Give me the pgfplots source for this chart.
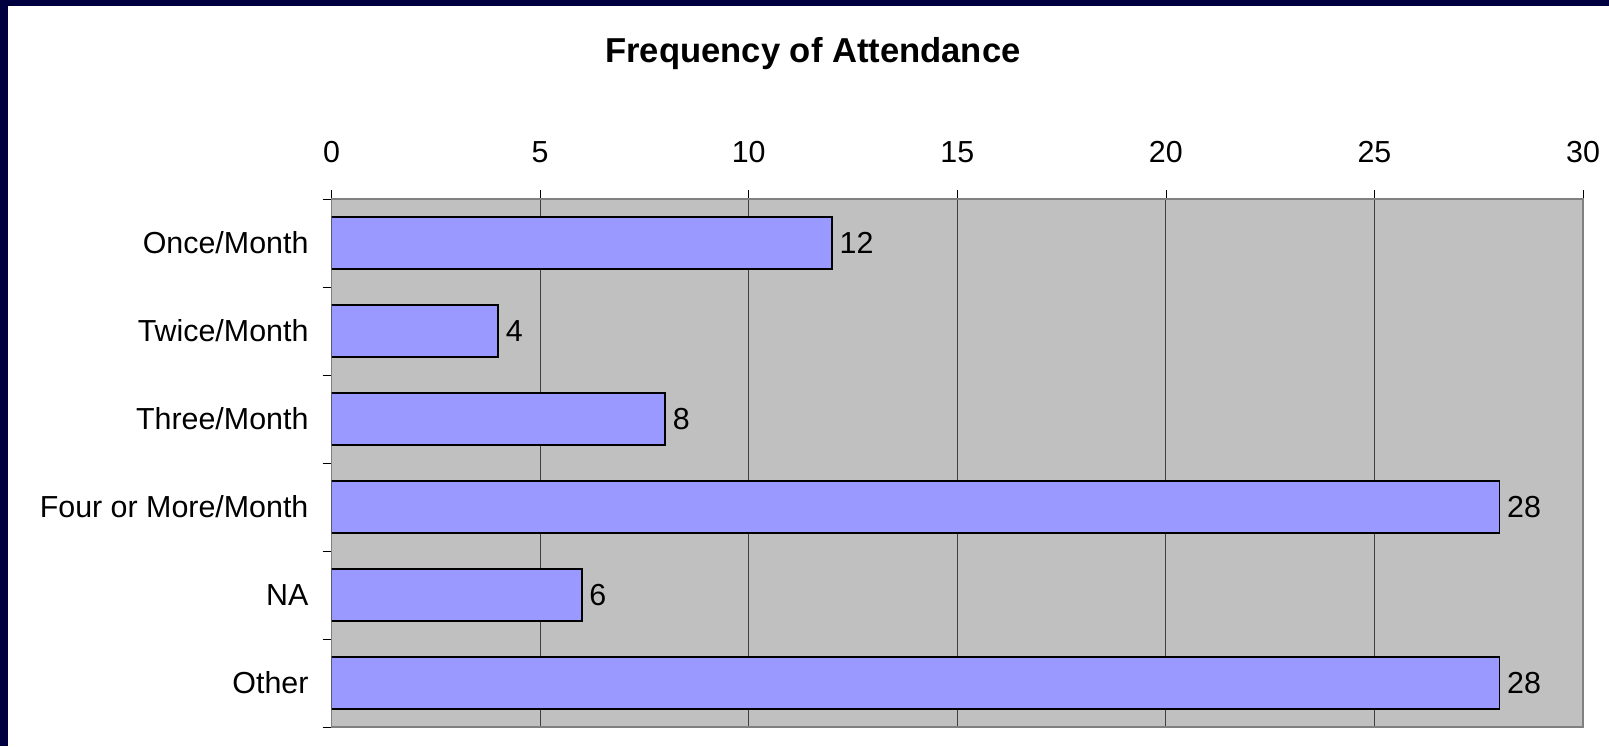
\documentclass[border=0pt]{standalone}
\usepackage{pgfplots}
\pgfplotsset{compat=1.18}
\usepackage{fontspec}
\setmainfont{Liberation Sans}
\definecolor{framenavy}{RGB}{0,0,64}
\definecolor{plotgray}{RGB}{192,192,192}
\definecolor{barblue}{RGB}{153,153,255}
\begin{document}
\begin{tikzpicture}
\useasboundingbox (0,0) rectangle (804.5pt,373pt);
\fill[white] (0,0) rectangle (804.5pt,373pt);
\fill[framenavy] (0,0) rectangle (4pt,373pt);
\fill[framenavy] (0,370pt) rectangle (804.5pt,373pt);
\node[anchor=base,font=\fontsize{17.3}{20}\selectfont\bfseries] at (406.5pt,341.5pt) {Frequency of Attendance};
\begin{axis}[
  at={(165.75pt,9.5pt)}, anchor=south west,
  scale only axis,
  width=625.75pt, height=264pt,
  xbar, bar width=26pt,
  xmin=0, xmax=30,
  ymin=-0.5, ymax=5.5,
  y dir=reverse,
  xtick={0,5,...,30},
  xticklabel pos=upper,
  xtick pos=right,
  ytick pos=left,
  ytick={0,...,5},
  yticklabels={Once/Month,Twice/Month,Three/Month,Four or More/Month,NA,Other},
  minor ytick={-0.5,0.5,...,5.5},
  major y tick style={draw=none},
  minor y tick style={black},
  x tick style={black},
  tick align=outside,
  major tick length=4.5pt, minor tick length=4.5pt,
  xmajorgrids, major grid style={black!75, line width=0.5pt},
  axis background/.style={fill=plotgray},
  axis line style={draw=black!50, line width=0.7pt},
  ticklabel style={font=\fontsize{15.2}{18}\selectfont},
  xticklabel style={yshift=10pt},
  yticklabel style={xshift=-3.5pt},
  /pgf/number format/assume math mode=true,
  nodes near coords,
  nodes near coords style={font=\fontsize{15.2}{18}\selectfont, black},
]
\addplot[fill=barblue, draw=black, line width=0.9pt] coordinates {(12,0) (4,1) (8,2) (28,3) (6,4) (28,5)};
\end{axis}
\end{tikzpicture}
\end{document}
